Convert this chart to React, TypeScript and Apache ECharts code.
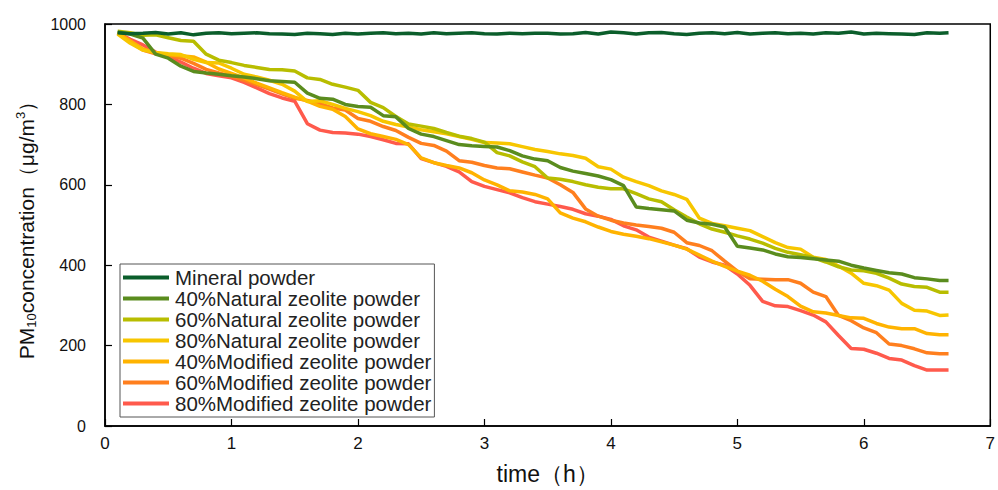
import React, { useEffect, useRef } from "react";
import * as echarts from "echarts";

const time = [0.1,0.2,0.3,0.4,0.5,0.6,0.7,0.8,0.9,1.0,1.1,1.2,1.3,1.4,1.5,1.6,1.7,1.8,1.9,2.0,2.1,2.2,2.3,2.4,2.5,2.6,2.7,2.8,2.9,3.0,3.1,3.2,3.3,3.4,3.5,3.6,3.7,3.8,3.9,4.0,4.1,4.2,4.3,4.4,4.5,4.6,4.7,4.8,4.9,5.0,5.1,5.2,5.3,5.4,5.5,5.6,5.7,5.8,5.9,6.0,6.1,6.2,6.3,6.4,6.5,6.6,6.67];

const mineral = [978,976,977,979,975,978,973,977,978,976,977,978,976,975,974,977,976,974,977,975,977,978,976,977,975,978,976,977,978,976,975,977,976,977,977,975,976,979,975,980,978,975,978,979,976,974,977,978,976,979,975,977,978,976,977,975,978,977,980,975,977,976,975,974,978,977,978];
const nat40 = [980,975,965,925,915,895,882,878,875,871,868,864,859,857,855,828,815,813,800,795,793,772,769,740,726,720,710,700,697,695,694,685,672,664,660,643,634,628,622,613,598,545,541,538,535,512,505,502,495,447,443,438,428,421,419,416,413,410,400,393,387,381,378,369,366,362,362];
const nat60 = [982,978,972,973,966,959,957,925,910,904,897,892,887,886,883,866,862,850,843,835,805,792,770,751,746,740,730,721,715,706,680,672,657,645,617,614,608,600,594,590,590,578,565,558,538,520,503,490,482,473,465,455,442,432,426,419,408,396,388,386,380,368,353,347,345,333,333];
const nat80 = [975,952,935,929,926,924,912,904,903,890,875,868,860,850,833,807,809,800,790,782,772,758,750,744,737,732,727,720,713,705,704,702,695,688,683,677,673,666,645,639,619,608,598,585,576,564,517,504,498,492,486,471,456,444,440,420,414,398,380,355,349,338,305,288,286,275,276];
const mod40 = [978,958,938,928,924,921,918,905,888,877,866,853,841,829,818,808,795,788,770,739,727,720,713,700,667,655,648,642,630,612,600,585,582,576,565,530,517,508,495,484,477,472,466,458,450,440,425,410,397,385,375,360,340,322,298,284,281,275,269,268,255,246,242,242,230,227,227];
const mod60 = [978,955,935,926,922,915,902,887,878,870,860,849,838,826,815,810,802,791,786,765,758,745,735,718,703,698,684,660,656,648,642,640,632,624,617,600,581,540,522,512,505,500,496,492,482,456,449,436,410,385,366,365,364,364,355,333,322,275,262,244,232,204,200,192,182,180,180];
const mod80 = [978,962,948,930,918,905,890,877,871,866,855,841,827,816,808,752,736,730,729,726,720,712,703,702,665,655,646,632,608,596,588,580,568,558,552,546,539,528,522,514,498,488,470,460,450,441,420,408,400,378,350,310,299,297,287,276,259,225,193,191,181,168,164,150,139,139,139];

const seriesNames = [
  "Mineral powder",
  "40%Natural zeolite powder",
  "60%Natural zeolite powder",
  "80%Natural zeolite powder",
  "40%Modified zeolite powder",
  "60%Modified zeolite powder",
  "80%Modified zeolite powder",
];
const seriesValues = [mineral, nat40, nat60, nat80, mod40, mod60, mod80];
const seriesColors = ["#0b5e2b", "#5a8c1e", "#b8bd00", "#f7c600", "#ffb300", "#ff7f1e", "#ff5a4c"];

const xTicks = [0, 1, 2, 3, 4, 5, 6, 7];
const yTicks = [0, 200, 400, 600, 800, 1000];

export default function App() {
  const ref = useRef<HTMLDivElement>(null);
  useEffect(() => {
    if (!ref.current) return;
    const chart = echarts.init(ref.current, null, { renderer: "svg" });
    const font = "Arial, 'Liberation Sans', sans-serif";
    const narrow = "'Liberation Sans Narrow', 'Arial Narrow', " + font;
    chart.setOption({
      animation: false,
      backgroundColor: "#fff",
      grid: {
        left: 105,
        right: 1,
        top: 24,
        bottom: 57,
        show: true,
        borderColor: "#000",
        borderWidth: 1.5,
        backgroundColor: "transparent",
      },
      legend: {
        orient: "vertical",
        left: 120,
        top: 264,
        data: seriesNames,
        icon: "rect",
        itemWidth: 46,
        itemHeight: 4,
        itemGap: 0,
        padding: [3, 3, 3, 3],
        borderColor: "#555",
        borderWidth: 1,
        backgroundColor: "#fff",
        textStyle: { fontFamily: font, fontSize: 20.5, lineHeight: 21, color: "#222", padding: [0, 0, 0, 1] },
      },
      xAxis: {
        type: "value",
        min: xTicks[0],
        max: xTicks[xTicks.length - 1],
        interval: 1,
        name: "time（h）",
        nameLocation: "middle",
        nameGap: 36,
        nameTextStyle: { fontFamily: narrow, fontSize: 23, color: "#111" },
        axisLine: { show: true, lineStyle: { color: "#000", width: 1.5 } },
        axisTick: { show: true, inside: true, length: 7, lineStyle: { color: "#000", width: 1.2 } },
        axisLabel: { fontFamily: narrow, fontSize: 17, color: "#111", margin: 9 },
        splitLine: { show: false },
      },
      yAxis: {
        type: "value",
        min: yTicks[0],
        max: yTicks[yTicks.length - 1],
        interval: 200,
        name: "{a|PM}{sub|10}{a|concentration（μg/m}{sup|3}{a|）}",
        nameLocation: "middle",
        nameGap: 67,
        nameTextStyle: {
          fontFamily: font,
          fontSize: 21,
          color: "#111",
          rich: {
            a: { fontFamily: font, fontSize: 21, color: "#111", verticalAlign: "middle" },
            sub: { fontFamily: font, fontSize: 13, color: "#111", verticalAlign: "bottom", padding: [11, 0, 0, 0] },
            sup: { fontFamily: font, fontSize: 13, color: "#111", verticalAlign: "top", padding: [0, 0, 11, 0] },
          },
        },
        axisLine: { show: true, lineStyle: { color: "#000", width: 1.5 } },
        axisTick: { show: true, inside: true, length: 7, lineStyle: { color: "#000", width: 1.2 } },
        axisLabel: { fontFamily: font, fontSize: 16, color: "#111", margin: 19, formatter: (v: number) => String(v) },
        splitLine: { show: false },
      },
      series: seriesNames.map((name, i) => ({
        name,
        type: "line",
        data: time.map((t, j) => [t, seriesValues[i][j]]),
        symbol: "none",
        smooth: false,
        color: seriesColors[i],
        lineStyle: { color: seriesColors[i], width: 3.5 },
        z: 10 - i,
      })),
    });
    return () => chart.dispose();
  }, []);
  return <div ref={ref} style={{ width: 998, height: 490, position: "absolute", left: 0, top: 0 }} />;
}
